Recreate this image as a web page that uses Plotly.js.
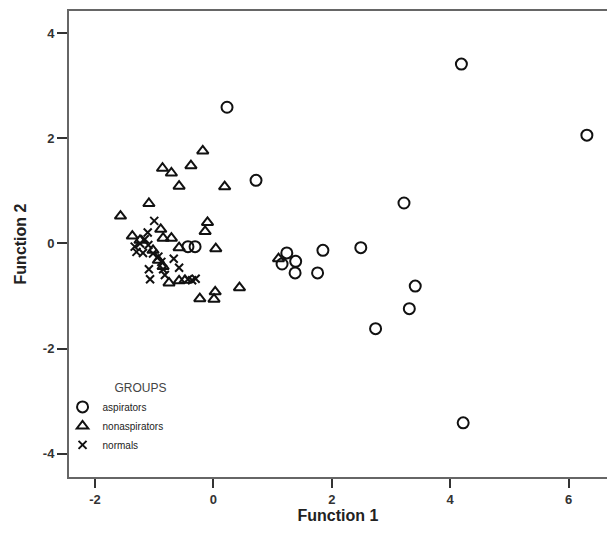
<!DOCTYPE html>
<html>
<head>
<meta charset="utf-8">
<script src="https://cdn.plot.ly/plotly-3.0.1.min.js"></script>
<style>html,body{margin:0;padding:0;background:#fff;}#chart{width:607px;height:535px;}</style>
</head>
<body>
<div id="chart"></div>
<script>
// Aspirators (open circles)
const aspX = [0.23, 0.72, 4.19, 6.31, 3.22, 2.49, 1.85, 1.76, 1.24, 1.16, 1.39, 1.38, 3.41, 3.31, 2.74, 4.22, -0.43, -0.31];
const aspY = [2.59, 1.20, 3.41, 2.06, 0.77, -0.08, -0.13, -0.56, -0.18, -0.39, -0.34, -0.56, -0.81, -1.24, -1.62, -3.41, -0.06, -0.06];
// Nonaspirators (open triangles)
const nonX = [-0.18, -0.86, -0.71, -0.38, -0.58, 0.19, -1.09, -1.57, -0.89, -0.10, -0.14, -1.37, -0.85, -0.71, -0.58, 0.04, -1.02, -0.93, -0.85, -0.75, -0.58, 0.44, -0.23, 0.03, 0.01, 1.10, -1.24, -0.48];
const nonY = [1.76, 1.43, 1.34, 1.48, 1.09, 1.08, 0.76, 0.52, 0.27, 0.40, 0.23, 0.14, 0.10, 0.10, -0.08, -0.10, -0.13, -0.32, -0.44, -0.75, -0.71, -0.84, -1.05, -0.92, -1.06, -0.29, 0.06, -0.70];
// Normals (crosses)
const norX = [-1.00, -1.11, -1.16, -1.24, -1.33, -1.10, -1.30, -1.19, -1.02, -0.93, -0.88, -0.67, -1.09, -0.85, -0.58, -1.07, -0.43, -0.36, -0.30, -0.82];
const norY = [0.43, 0.21, 0.08, 0.00, -0.06, -0.03, -0.16, -0.18, -0.19, -0.25, -0.35, -0.29, -0.49, -0.49, -0.46, -0.68, -0.68, -0.70, -0.67, -0.60];

const groupNames = ['aspirators', 'nonaspirators', 'normals'];
const xTicks = [-2, 0, 2, 4, 6];
const yTicks = [-4, -2, 0, 2, 4];

const FONT = 'Arial, "Liberation Sans", Helvetica, sans-serif';

const traces = [
  {x: aspX, y: aspY, name: groupNames[0], type: 'scatter', mode: 'markers',
   marker: {symbol: 'circle-open', size: 11, color: '#111', line: {width: 2, color: '#111'}}},
  {x: nonX, y: nonY, name: groupNames[1], type: 'scatter', mode: 'markers',
   marker: {symbol: 'triangle-up-open', size: 10, color: '#111', line: {width: 2, color: '#111'}}},
  {x: norX, y: norY, name: groupNames[2], type: 'scatter', mode: 'markers',
   marker: {symbol: 'x-thin-open', size: 8, color: '#111', line: {width: 2, color: '#111'}}}
];

const layout = {
  width: 607, height: 535,
  margin: {l: 69, r: 0, t: 11, b: 58},
  paper_bgcolor: '#fff', plot_bgcolor: '#fff',
  font: {family: FONT, color: '#222'},
  showlegend: true,
  legend: {
    x: -0.012, y: 0.215, xanchor: 'left', yanchor: 'top',
    bgcolor: 'rgba(0,0,0,0)',
    font: {family: FONT, size: 10, color: '#222'},
    title: {text: 'GROUPS', side: 'top right', font: {family: FONT, size: 12, color: '#444'}},
    itemwidth: 30,
    tracegroupgap: 0
  },
  xaxis: {
    range: [-2.44, 6.65],
    tickvals: xTicks, ticktext: xTicks.map(String),
    ticks: 'outside', ticklen: 9, tickwidth: 2, tickcolor: '#333',
    showline: true, linecolor: '#666', linewidth: 2, mirror: true,
    showgrid: false, zeroline: false,
    tickfont: {family: FONT, size: 13, color: '#333', weight: 'bold'},
    title: {text: '<b>Function 1</b>', font: {family: FONT, size: 16, color: '#222'}, standoff: 0}
  },
  yaxis: {
    range: [-4.44, 4.42],
    tickvals: yTicks, ticktext: yTicks.map(String),
    ticks: 'outside', ticklen: 10, tickwidth: 2, tickcolor: '#333',
    showline: true, linecolor: '#666', linewidth: 2, mirror: false,
    showgrid: false, zeroline: false,
    tickfont: {family: FONT, size: 13, color: '#333', weight: 'bold'},
    title: {text: '<b>Function 2</b>', font: {family: FONT, size: 16, color: '#222'}, standoff: 12}
  }
};

Plotly.newPlot('chart', traces, layout, {displayModeBar: false, staticPlot: true});
</script>
</body>
</html>
